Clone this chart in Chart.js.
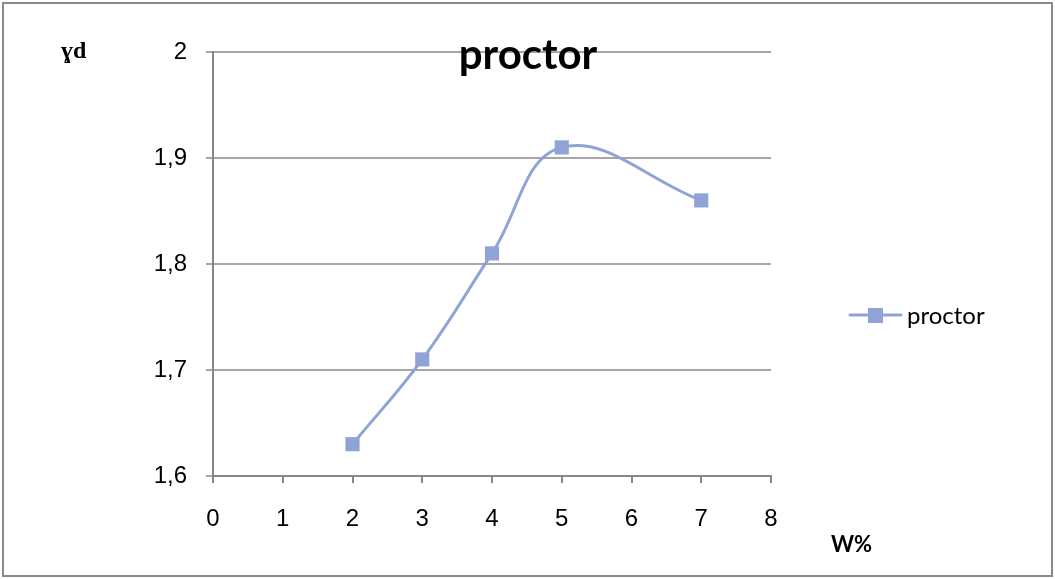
<!DOCTYPE html>
<html>
<head>
<meta charset="utf-8">
<script src="https://cdn.jsdelivr.net/npm/chart.js@4"></script>
<style>
  html, body { margin: 0; padding: 0; background: #fff; }
  #wrap { width: 1055px; height: 579px; }
</style>
</head>
<body>
<div id="wrap"><canvas id="proctorChart"></canvas></div>
<script>
// water content W% vs dry density (proctor test)
const waterContent = [2, 3, 4, 5, 7];
const dryDensity = [1.63, 1.71, 1.81, 1.91, 1.86];
const seriesName = "proctor";

const lineColor = "#8fa3d6";

// frame, title, axis names and legend
const decorations = {
  id: "decorations",
  afterDraw(chart) {
    const ctx = chart.ctx;
    ctx.save();
    ctx.strokeStyle = "#8a8a8a";
    ctx.lineWidth = 2;
    ctx.strokeRect(3, 3, 1049, 573);

    ctx.fillStyle = "#000";
    ctx.textAlign = "center";
    ctx.textBaseline = "alphabetic";
    ctx.font = "bold 42px Lato";
    ctx.fillText("proctor", 528, 69);

    ctx.font = "bold 24px 'Liberation Serif'";
    ctx.textAlign = "left";
    ctx.fillText("ɣd", 61, 58);

    ctx.font = "bold 22px Lato";
    ctx.fillText("W%", 831, 552);

    // legend entry
    const ly = 315;
    ctx.strokeStyle = lineColor;
    ctx.lineWidth = 3;
    ctx.lineCap = "round";
    ctx.beginPath();
    ctx.moveTo(850, ly);
    ctx.lineTo(901, ly);
    ctx.stroke();
    ctx.fillStyle = lineColor;
    ctx.fillRect(868, ly - 7, 15, 15);
    ctx.fillStyle = "#000";
    ctx.font = "24px Lato";
    ctx.textBaseline = "middle";
    ctx.fillText(chart.data.datasets[0].label, 907, ly + 1);
    ctx.restore();
  }
};

new Chart(document.getElementById("proctorChart"), {
  type: "line",
  data: {
    datasets: [{
      label: seriesName,
      data: waterContent.map((w, i) => ({ x: w, y: dryDensity[i] })),
      borderColor: lineColor,
      backgroundColor: lineColor,
      borderWidth: 3,
      tension: 0.4,
      pointStyle: "rect",
      pointRadius: 10,
      pointHoverRadius: 10,
      pointBorderWidth: 0,
      fill: false
    }]
  },
  options: {
    responsive: true,
    maintainAspectRatio: false,
    animation: false,
    layout: { padding: { left: 0, top: 52, right: 284, bottom: 0 } },
    plugins: {
      legend: { display: false },
      title: { display: false },
      tooltip: { enabled: false }
    },
    scales: {
      x: {
        type: "linear",
        min: 0,
        max: 8,
        afterFit(scale) { scale.height = 103; },
        border: { color: "#868686", width: 2 },
        grid: { drawOnChartArea: false, drawTicks: true, tickLength: 7, color: "#868686", lineWidth: 2 },
        ticks: {
          stepSize: 1,
          padding: 22,
          color: "#000",
          font: { family: "'Liberation Sans'", size: 24 }
        }
      },
      y: {
        min: 1.6,
        max: 2,
        afterFit(scale) { scale.width = 213; },
        border: { color: "#868686", width: 2 },
        grid: { color: "#a6a6a6", lineWidth: 2, tickLength: 7 },
        ticks: {
          stepSize: 0.1,
          padding: 19,
          color: "#000",
          font: { family: "'Liberation Sans'", size: 24 },
          callback: v => v.toFixed(1).replace(".0", "").replace(".", ",")
        }
      }
    }
  },
  plugins: [decorations]
});
</script>
</body>
</html>
